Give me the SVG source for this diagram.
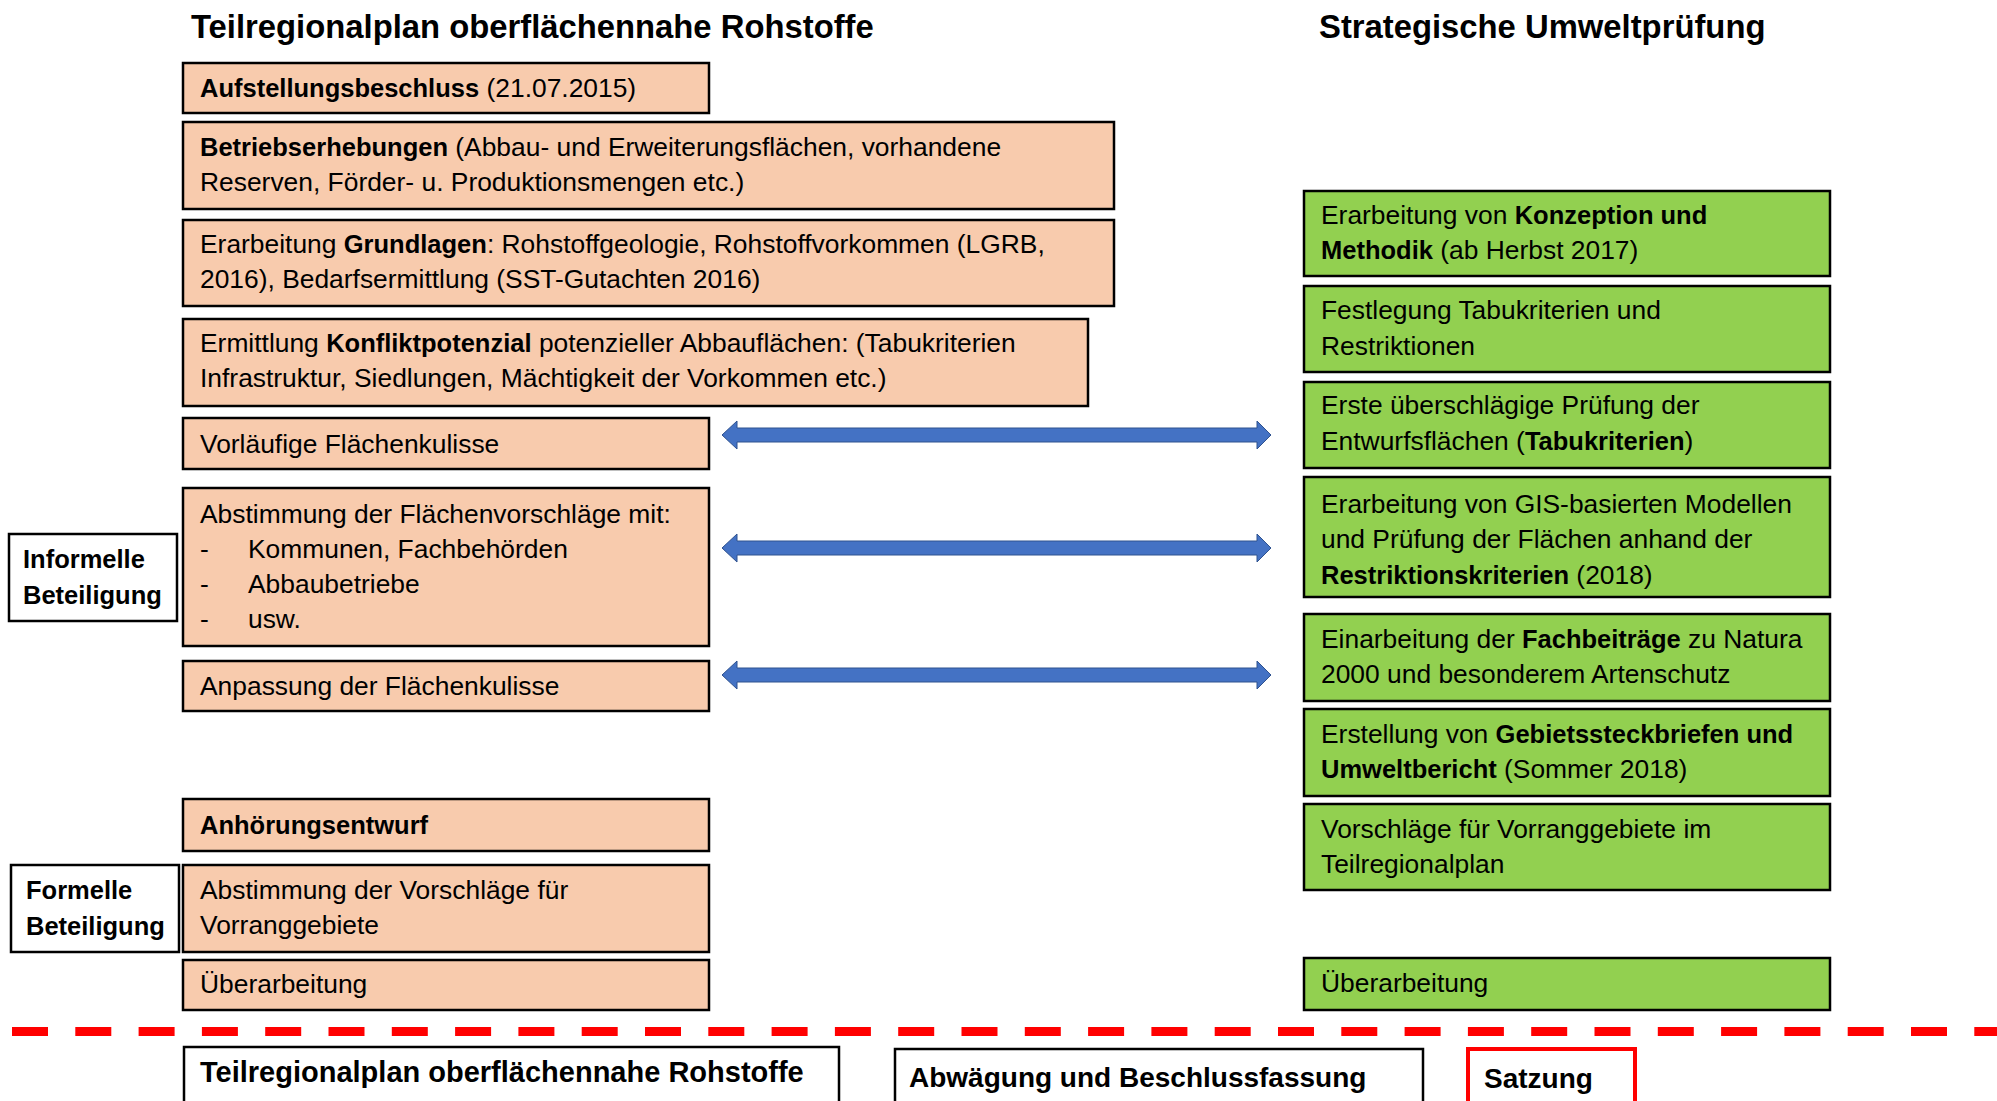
<svg xmlns="http://www.w3.org/2000/svg" width="1997" height="1101" viewBox="0 0 1997 1101">
<style>
text{font-family:"Liberation Sans",Arial,sans-serif;fill:#000}
.t{font-size:26.4px}
.b{font-weight:bold;font-size:25.5px}
.h{font-size:32.8px;font-weight:bold}
.hb{font-size:29px;font-weight:bold}
.hc{font-size:28px;font-weight:bold}
.p{fill:#F8CBAD;stroke:#000;stroke-width:2.5}
.g{fill:#92D050;stroke:#000;stroke-width:2.5}
.w{fill:#fff;stroke:#000;stroke-width:2.5}
.r{fill:#fff;stroke:#FF0000;stroke-width:4}
.arr{fill:#4472C4;stroke:#2F528F;stroke-width:1}
</style>
<rect width="1997" height="1101" fill="#fff"/>
<g id="titles">
<text class="h" x="191" y="38">Teilregionalplan oberflächennahe Rohstoffe</text>
<text class="h" x="1319" y="38">Strategische Umweltprüfung</text>
</g>
<g id="n1"><rect class="p" x="183" y="63" width="526" height="50"/>
<text class="t" x="200" y="97"><tspan class="b">Aufstellungsbeschluss</tspan> (21.07.2015)</text></g>
<g id="n2"><rect class="p" x="183" y="122" width="931" height="87"/>
<text class="t" x="200" y="156"><tspan class="b">Betriebserhebungen</tspan> (Abbau- und Erweiterungsflächen, vorhandene</text>
<text class="t" x="200" y="191">Reserven, Förder- u. Produktionsmengen etc.)</text></g>
<g id="n3"><rect class="p" x="183" y="220" width="931" height="86"/>
<text class="t" x="200" y="253">Erarbeitung <tspan class="b">Grundlagen</tspan>: Rohstoffgeologie, Rohstoffvorkommen (LGRB,</text>
<text class="t" x="200" y="288">2016), Bedarfsermittlung (SST-Gutachten 2016)</text></g>
<g id="n4"><rect class="p" x="183" y="319" width="905" height="87"/>
<text class="t" x="200" y="352">Ermittlung <tspan class="b">Konfliktpotenzial</tspan> potenzieller Abbauflächen: (Tabukriterien</text>
<text class="t" x="200" y="387">Infrastruktur, Siedlungen, Mächtigkeit der Vorkommen etc.)</text></g>
<g id="n5"><rect class="p" x="183" y="418" width="526" height="51"/>
<text class="t" x="200" y="453">Vorläufige Flächenkulisse</text></g>
<g id="n6"><rect class="p" x="183" y="488" width="526" height="158"/>
<text class="t" x="200" y="523">Abstimmung der Flächenvorschläge mit:</text>
<text class="t" x="200" y="558">-</text><text class="t" x="248" y="558">Kommunen, Fachbehörden</text>
<text class="t" x="200" y="593">-</text><text class="t" x="248" y="593">Abbaubetriebe</text>
<text class="t" x="200" y="628">-</text><text class="t" x="248" y="628">usw.</text></g>
<g id="n7"><rect class="p" x="183" y="661" width="526" height="50"/>
<text class="t" x="200" y="695">Anpassung der Flächenkulisse</text></g>
<g id="informell"><rect class="w" x="9" y="534" width="168" height="87"/>
<text class="t b" x="23" y="568">Informelle</text>
<text class="t b" x="23" y="604">Beteiligung</text></g>
<g id="n8"><rect class="p" x="183" y="799" width="526" height="52"/>
<text class="t b" x="200" y="834">Anhörungsentwurf</text></g>
<g id="formell"><rect class="w" x="11" y="865" width="168" height="87"/>
<text class="t b" x="26" y="899">Formelle</text>
<text class="t b" x="26" y="935">Beteiligung</text></g>
<g id="n9"><rect class="p" x="183" y="865" width="526" height="87"/>
<text class="t" x="200" y="899">Abstimmung der Vorschläge für</text>
<text class="t" x="200" y="934">Vorranggebiete</text></g>
<g id="n10"><rect class="p" x="183" y="960" width="526" height="50"/>
<text class="t" x="200" y="993">Überarbeitung</text></g>
<g id="g1"><rect class="g" x="1304" y="191" width="526" height="85"/>
<text class="t" x="1321" y="224">Erarbeitung von <tspan class="b">Konzeption und</tspan></text>
<text class="t" x="1321" y="259"><tspan class="b">Methodik</tspan> (ab Herbst 2017)</text></g>
<g id="g2"><rect class="g" x="1304" y="286" width="526" height="86"/>
<text class="t" x="1321" y="319">Festlegung Tabukriterien und</text>
<text class="t" x="1321" y="355">Restriktionen</text></g>
<g id="g3"><rect class="g" x="1304" y="382" width="526" height="86"/>
<text class="t" x="1321" y="414">Erste überschlägige Prüfung der</text>
<text class="t" x="1321" y="450">Entwurfsflächen (<tspan class="b">Tabukriterien</tspan>)</text></g>
<g id="g4"><rect class="g" x="1304" y="477" width="526" height="120"/>
<text class="t" x="1321" y="513">Erarbeitung von GIS-basierten Modellen</text>
<text class="t" x="1321" y="548">und Prüfung der Flächen anhand der</text>
<text class="t" x="1321" y="584"><tspan class="b">Restriktionskriterien</tspan> (2018)</text></g>
<g id="g5"><rect class="g" x="1304" y="614" width="526" height="87"/>
<text class="t" x="1321" y="648">Einarbeitung der <tspan class="b">Fachbeiträge</tspan> zu Natura</text>
<text class="t" x="1321" y="683">2000 und besonderem Artenschutz</text></g>
<g id="g6"><rect class="g" x="1304" y="709" width="526" height="87"/>
<text class="t" x="1321" y="743">Erstellung von <tspan class="b">Gebietssteckbriefen und</tspan></text>
<text class="t" x="1321" y="778"><tspan class="b">Umweltbericht</tspan> (Sommer 2018)</text></g>
<g id="g7"><rect class="g" x="1304" y="804" width="526" height="86"/>
<text class="t" x="1321" y="838">Vorschläge für Vorranggebiete im</text>
<text class="t" x="1321" y="873">Teilregionalplan</text></g>
<g id="g8"><rect class="g" x="1304" y="958" width="526" height="52"/>
<text class="t" x="1321" y="992">Überarbeitung</text></g>
<g id="connectors">
<polygon class="arr" points="722,435 737,421 737,428 1257,428 1257,421 1271,435 1257,449 1257,442 737,442 737,449"/>
<polygon class="arr" points="722,548 737,534 737,541 1257,541 1257,534 1271,548 1257,562 1257,555 737,555 737,562"/>
<polygon class="arr" points="722,675 737,661 737,668 1257,668 1257,661 1271,675 1257,689 1257,682 737,682 737,689"/>
</g>
<line x1="12" y1="1031.5" x2="1997" y2="1031.5" stroke="#FF0000" stroke-width="9" stroke-dasharray="36 27.3"/>
<g id="b1"><rect class="w" x="184" y="1047" width="655" height="70"/>
<text class="hb" x="200" y="1082">Teilregionalplan oberflächennahe Rohstoffe</text></g>
<g id="b2"><rect class="w" x="895" y="1049" width="528" height="70"/>
<text class="hc" x="909" y="1087">Abwägung und Beschlussfassung</text></g>
<g id="b3"><rect class="r" x="1468" y="1049" width="167" height="70"/>
<text class="hc" x="1484" y="1088">Satzung</text></g>
</svg>
